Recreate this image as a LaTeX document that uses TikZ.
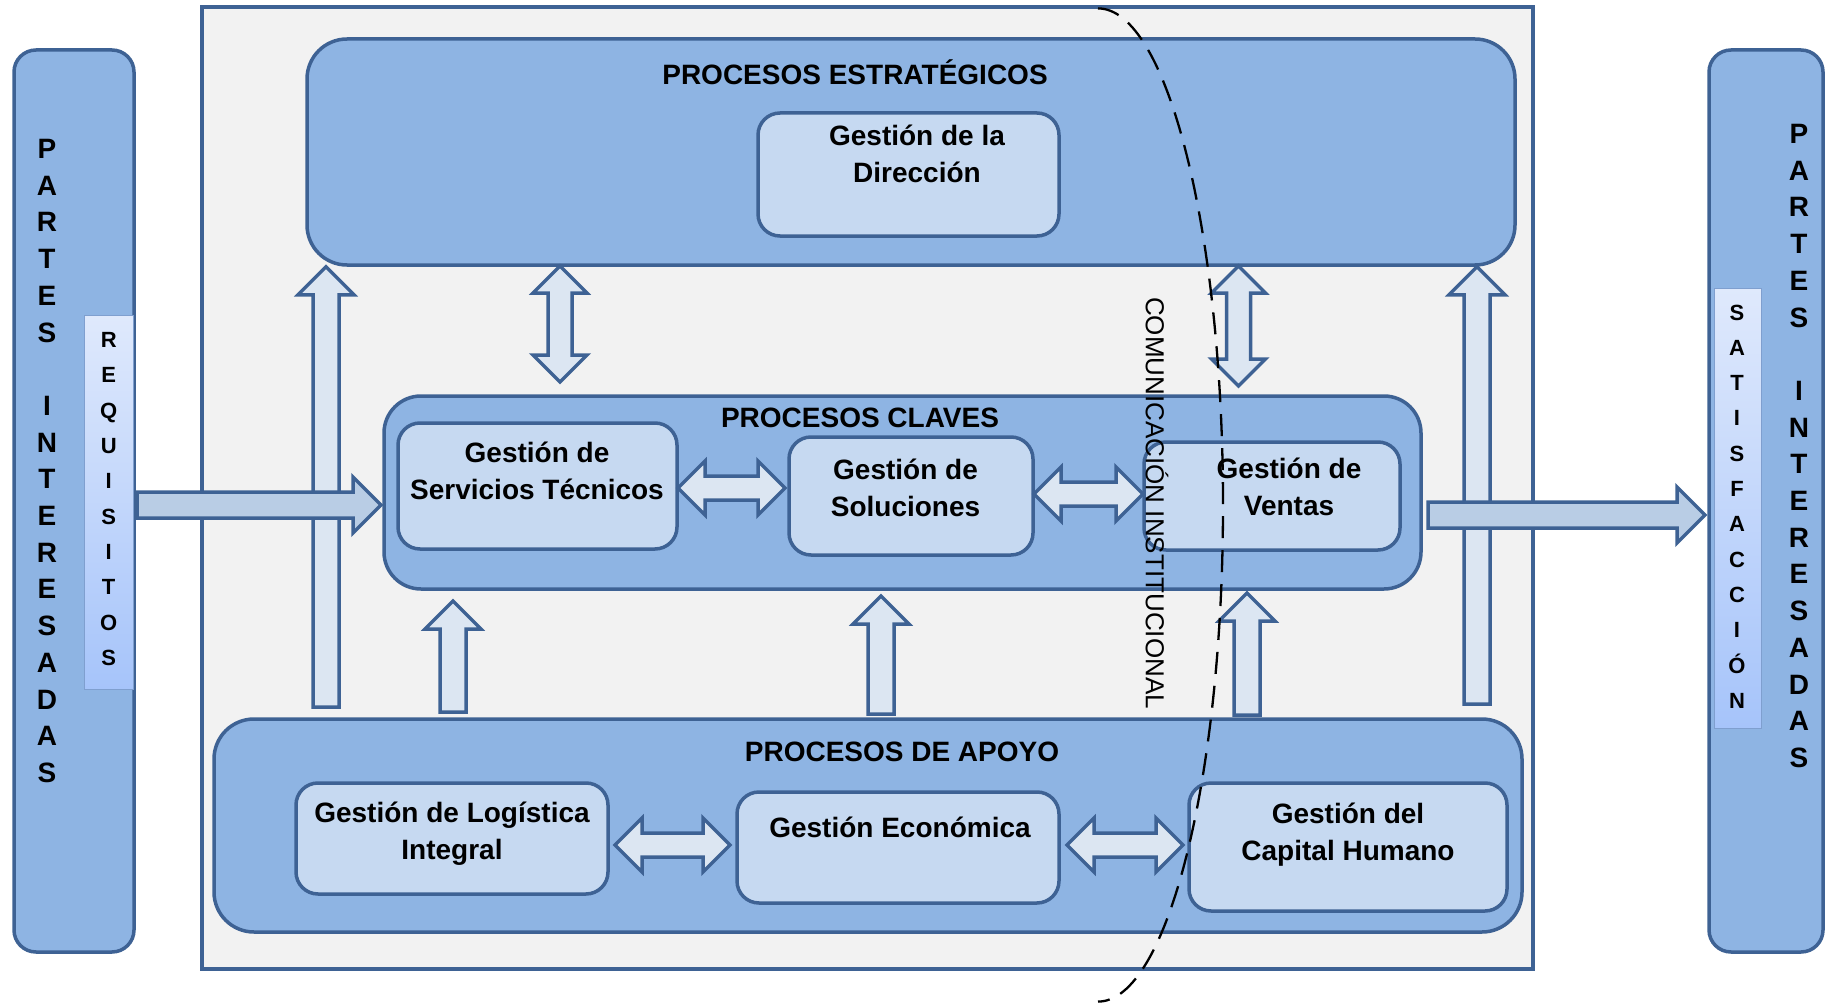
\documentclass[tikz,border=0pt]{standalone}
\usepackage{fontspec}
\setmainfont{Liberation Sans}
\usetikzlibrary{calc}
\definecolor{edge}{HTML}{3E6294}
\definecolor{procfill}{HTML}{8EB4E3}
\definecolor{gestfill}{HTML}{C6D9F1}
\definecolor{arrfill}{HTML}{DCE6F2}
\definecolor{flowfill}{HTML}{B9CDE5}
\definecolor{framefill}{HTML}{F2F2F2}
\definecolor{stripTop}{HTML}{DFE9FC}
\definecolor{stripBot}{HTML}{A6C4FA}
\definecolor{stripEdge}{HTML}{7F9FCF}
\tikzset{
  procbox/.style={draw=edge, line width=3.5pt, fill=procfill, rounded corners=40pt, inner sep=0pt},
  gestbox/.style={draw=edge, line width=3.5pt, fill=gestfill, rounded corners=22pt, inner sep=0pt},
  sidebar/.style={draw=edge, line width=3.5pt, fill=procfill, rounded corners=22pt, inner sep=0pt},
  strip/.style={draw=stripEdge, line width=1pt, top color=stripTop, bottom color=stripBot, inner sep=0pt},
  arrowbox/.style={draw=edge, line width=3.5pt, fill=arrfill},
  gtext/.style={font=\bfseries\fontsize{28}{37}\selectfont, align=center},
  ttext/.style={font=\bfseries\fontsize{28}{34}\selectfont},
  stack/.style={font=\bfseries\fontsize{28}{36.7}\selectfont, align=center, inner sep=0pt},
  smallstack/.style={font=\bfseries\fontsize{22}{35.3}\selectfont, align=center, inner sep=0pt},
  comline/.style={black, line width=2.3pt, dash pattern=on 22pt off 12pt}
}
\newcommand{\blockarrow}[3][]{%
  \coordinate (ba-h) at ($(#3)!28pt!(#2)$);
  \draw[arrowbox,#1] ($(#2)!13pt!90:(#3)$) -- ($(ba-h)!13pt!90:(#3)$)
    -- ($(ba-h)!28pt!90:(#3)$) -- (#3) -- ($(ba-h)!28pt!-90:(#3)$)
    -- ($(ba-h)!13pt!-90:(#3)$) -- ($(#2)!13pt!-90:(#3)$) -- cycle;
}
\newcommand{\dblarrow}[3][]{%
  \coordinate (da-a) at ($(#2)!27pt!(#3)$);
  \coordinate (da-b) at ($(#3)!27pt!(#2)$);
  \draw[arrowbox,#1] (#2) -- ($(da-a)!27pt!90:(#3)$) -- ($(da-a)!12pt!90:(#3)$)
    -- ($(da-b)!12pt!90:(#3)$) -- ($(da-b)!27pt!90:(#3)$) -- (#3)
    -- ($(da-b)!27pt!-90:(#3)$) -- ($(da-b)!12pt!-90:(#3)$)
    -- ($(da-a)!12pt!-90:(#3)$) -- ($(da-a)!27pt!-90:(#3)$) -- cycle;
}
\begin{document}
\begin{tikzpicture}[x=1pt, y=-1pt]
\useasboundingbox (0,0) rectangle (1832,1006);
\node[draw=edge, line width=3.5pt, fill=framefill, minimum width=1331pt, minimum height=962pt, inner sep=0pt] (marco) at (867.5,488) {};

\node[sidebar, minimum width=120pt, minimum height=902pt] (pi-izq) at (74,501) {};
\node[sidebar, minimum width=114pt, minimum height=902pt] (pi-der) at (1766,501) {};
\node[strip, minimum width=49pt, minimum height=374pt] (req) at (108.5,502) {};
\node[strip, minimum width=47pt, minimum height=440pt] (sat) at (1737.5,508) {};
\node[stack] (t-izq) at (47,461) {P\\A\\R\\T\\E\\S\\[36.7pt]I\\N\\T\\E\\R\\E\\S\\A\\D\\A\\S};
\node[stack] (t-der) at (1799,446) {P\\A\\R\\T\\E\\S\\[36.7pt]I\\N\\T\\E\\R\\E\\S\\A\\D\\A\\S};
\node[smallstack] (t-req) at (108.7,499) {R\\E\\Q\\U\\I\\S\\I\\T\\O\\S};
\node[smallstack] (t-sat) at (1737,506.5) {S\\A\\T\\I\\S\\F\\A\\C\\C\\I\\Ó\\N};

\node[procbox, minimum width=1208pt, minimum height=226pt] (estr) at (911,152) {};
\node[gestbox, minimum width=301pt, minimum height=123pt] (dir) at (908.5,174.5) {};
\node[procbox, rounded corners=37pt, minimum width=1037pt, minimum height=193pt] (claves) at (902.5,492.5) {};
\node[gestbox, minimum width=279pt, minimum height=126pt] (serv) at (537.5,486) {};
\node[gestbox, minimum width=244pt, minimum height=118pt] (sol) at (911,496) {};
\node[gestbox, minimum width=256pt, minimum height=108pt] (ventas) at (1272,496) {};
\node[procbox, minimum width=1308pt, minimum height=213pt] (apoyo) at (868,825.5) {};
\node[gestbox, minimum width=312pt, minimum height=111pt] (log) at (452,838.5) {};
\node[gestbox, minimum width=322pt, minimum height=111pt] (econ) at (898,847.5) {};
\node[gestbox, minimum width=318pt, minimum height=128pt] (cap) at (1348,847) {};

\node[ttext] (t-estr) at (855,72) {PROCESOS ESTRATÉGICOS};
\node[gtext] (t-dir) at (917,154) {Gestión de la\\Dirección};
\node[ttext] (t-claves) at (860,418) {PROCESOS CLAVES};
\node[gtext] (t-serv) at (537,471) {Gestión de\\Servicios Técnicos};
\node[gtext] (t-sol) at (905.5,488) {Gestión de\\Soluciones};
\node[gtext] (t-ventas) at (1289,487) {Gestión de\\Ventas};
\node[ttext] (t-apoyo) at (902,752) {PROCESOS DE APOYO};
\node[gtext] (t-log) at (452,834) {Gestión de Logística\\Integral};
\node[gtext] (t-econ) at (900,827) {Gestión Económica};
\node[gtext] (t-cap) at (1348,835) {Gestión del\\Capital Humano};

\coordinate (sube-l0) at (326,707);
\coordinate (sube-l1) at (sube-l0 |- estr.south);
\coordinate (sube-r0) at (1477,704);
\coordinate (sube-r1) at (sube-r0 |- estr.south);
\coordinate (sube-a0) at (453,712);
\coordinate (sube-a1) at (453,601);
\coordinate (sube-b0) at (881,714);
\coordinate (sube-b1) at (881,596);
\coordinate (sube-c0) at (1247,715);
\coordinate (sube-c1) at (1247,593);
\coordinate (dv-a0) at (560,266);
\coordinate (dv-a1) at (560,382);
\coordinate (dv-b0) at (1238.5,266);
\coordinate (dv-b1) at (1238.5,386);
\coordinate (dh-a0) at (678,488);
\coordinate (dh-a1) at (785,488);
\coordinate (dh-b0) at (1034,494);
\coordinate (dh-b1) at (1143,494);
\coordinate (dh-c0) at (615,845);
\coordinate (dh-c1) at (730,845);
\coordinate (dh-d0) at (1067,845);
\coordinate (dh-d1) at (1183,845);
\coordinate (req-0) at (137,505);
\coordinate (req-1) at (381,505);
\coordinate (sat-0) at (1428,515);
\coordinate (sat-1) at (1705,515);

\blockarrow{sube-l0}{sube-l1}
\blockarrow{sube-r0}{sube-r1}
\blockarrow{sube-a0}{sube-a1}
\blockarrow{sube-b0}{sube-b1}
\blockarrow{sube-c0}{sube-c1}
\dblarrow{dv-a0}{dv-a1}
\dblarrow{dv-b0}{dv-b1}
\dblarrow{dh-a0}{dh-a1}
\dblarrow{dh-b0}{dh-b1}
\dblarrow{dh-c0}{dh-c1}
\dblarrow{dh-d0}{dh-d1}
\blockarrow[fill=flowfill]{req-0}{req-1}
\blockarrow[fill=flowfill]{sat-0}{sat-1}

\draw[comline] (1098,8.4) arc[start angle=-90, end angle=90, x radius=125, y radius=496.6];
\node[rotate=-90, font=\fontsize{26}{30}\selectfont] (t-com) at (1157,503) {COMUNICACIÓN INSTITUCIONAL};
\end{tikzpicture}
\end{document}
